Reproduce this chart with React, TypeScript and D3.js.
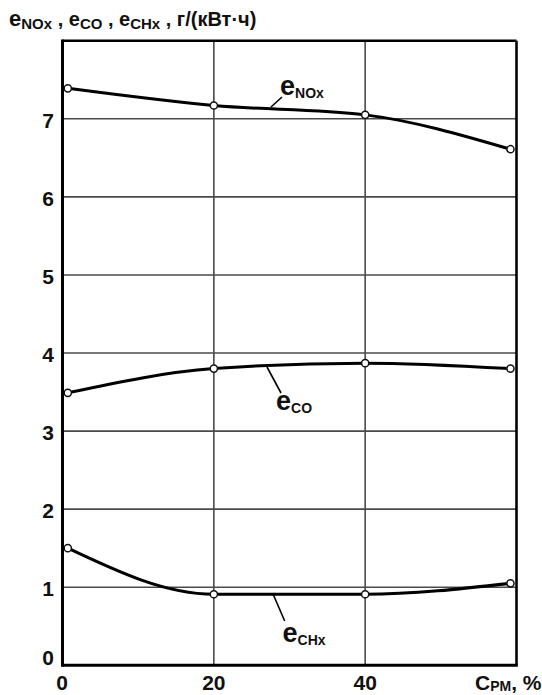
import React from "react";
import * as d3 from "d3";

const xTicks = [0, 20, 40];
const yTicks = [0, 1, 2, 3, 4, 5, 6, 7];
const xGrid = [20, 40];
const yGrid = [1, 2, 3, 4, 5, 6, 7];

const cpm = [0.7, 20, 40, 59.2];
const eNOx = [7.39, 7.17, 7.05, 6.61];
const eCO = [3.49, 3.8, 3.87, 3.8];
const eCHx = [1.5, 0.91, 0.91, 1.05];

const W = 542;
const H = 695;
const L = 62.5;
const R = 516.5;
const T = 40.7;
const B = 665.3;

const x = d3.scaleLinear().domain([0, 60]).range([L, R]);
const y = d3.scaleLinear().domain([0, 8]).range([B, T]);

const line = d3
  .line<[number, number]>()
  .x((d) => x(d[0]))
  .y((d) => y(d[1]))
  .curve(d3.curveMonotoneX);

const series = [eNOx, eCO, eCHx];

const FONT = "'Liberation Sans', Arial, sans-serif";

export default function App() {
  return (
    <svg
      width={W}
      height={H}
      style={{ position: "absolute", left: 0, top: 0, background: "#fff" }}
      fontFamily={FONT}
    >
      <rect width={W} height={H} fill="#fff" />
      {/* grid */}
      {yGrid.map((v) => (
        <line key={"h" + v} x1={L} x2={R} y1={y(v)} y2={y(v)} stroke="#4a4a4a" strokeWidth={1.6} />
      ))}
      {xGrid.map((v) => (
        <line key={"v" + v} x1={x(v)} x2={x(v)} y1={T} y2={B} stroke="#4a4a4a" strokeWidth={1.6} />
      ))}
      {/* frame */}
      <line x1={L} x2={R} y1={T} y2={T} stroke="#000" strokeWidth={2.6} />
      <line x1={R} x2={R} y1={T} y2={B} stroke="#000" strokeWidth={2.6} />
      <line x1={L} x2={L} y1={T - 1.3} y2={B + 1.5} stroke="#000" strokeWidth={3} />
      <line x1={L} x2={R + 1.3} y1={B} y2={B} stroke="#000" strokeWidth={3} />

      {/* curves */}
      {series.map((s, i) => (
        <path
          key={"c" + i}
          d={line(cpm.map((c, j) => [c, s[j]] as [number, number])) || ""}
          fill="none"
          stroke="#000"
          strokeWidth={3}
        />
      ))}
      {series.map((s, i) =>
        s.map((v, j) => (
          <circle key={"p" + i + "-" + j} cx={x(cpm[j])} cy={y(v)} r={3.6} fill="#fff" stroke="#111" strokeWidth={1.5} />
        ))
      )}

      {/* leader lines */}
      <line x1={282} y1={97} x2={271} y2={107} stroke="#000" strokeWidth={1.6} />
      <line x1={267} y1={367} x2={281} y2={393} stroke="#000" strokeWidth={1.6} />
      <line x1={272.6} y1={593} x2={284.7} y2={621} stroke="#000" strokeWidth={1.6} />

      {/* curve labels */}
      <text x={280} y={95} fontWeight="bold" fill="#111">
        <tspan fontSize={27}>e</tspan>
        <tspan fontSize={14} dy={3}>NOx</tspan>
      </text>
      <text x={276} y={410} fontWeight="bold" fill="#111">
        <tspan fontSize={27}>e</tspan>
        <tspan fontSize={14} dy={3}>CO</tspan>
      </text>
      <text x={282.5} y={641.5} fontWeight="bold" fill="#111">
        <tspan fontSize={27}>e</tspan>
        <tspan fontSize={14} dy={3}>CHx</tspan>
      </text>

      {/* y tick labels */}
      {yTicks.map((v) => (
        <text
          key={"yt" + v}
          x={54}
          y={v === 0 ? B : y(v) + 9}
          textAnchor="end"
          fontSize={21}
          fontWeight="bold"
          fill="#111"
        >
          {v}
        </text>
      ))}
      {/* x tick labels */}
      {xTicks.map((v) => (
        <text
          key={"xt" + v}
          x={v === 0 ? x(v) - 0.5 : x(v)}
          y={690}
          textAnchor="middle"
          fontSize={21}
          fontWeight="bold"
          fill="#111"
        >
          {v}
        </text>
      ))}
      <text x={475} y={690} fontWeight="bold" fill="#111">
        <tspan fontSize={21}>C</tspan>
        <tspan fontSize={14} dy={1}>PM</tspan>
        <tspan fontSize={21} dy={-1}>, %</tspan>
      </text>

      {/* title */}
      <text x={9} y={26} fontWeight="bold" fill="#111">
        <tspan fontSize={22}>e</tspan>
        <tspan fontSize={15} dy={3}>NOx</tspan>
        <tspan fontSize={20} dy={-3}>{" , e"}</tspan>
        <tspan fontSize={15} dy={3}>CO</tspan>
        <tspan fontSize={20} dy={-3}>{" , e"}</tspan>
        <tspan fontSize={15} dy={3}>CHx</tspan>
        <tspan fontSize={20} dy={-3}>{" , г/(кВт·ч)"}</tspan>
      </text>
    </svg>
  );
}
